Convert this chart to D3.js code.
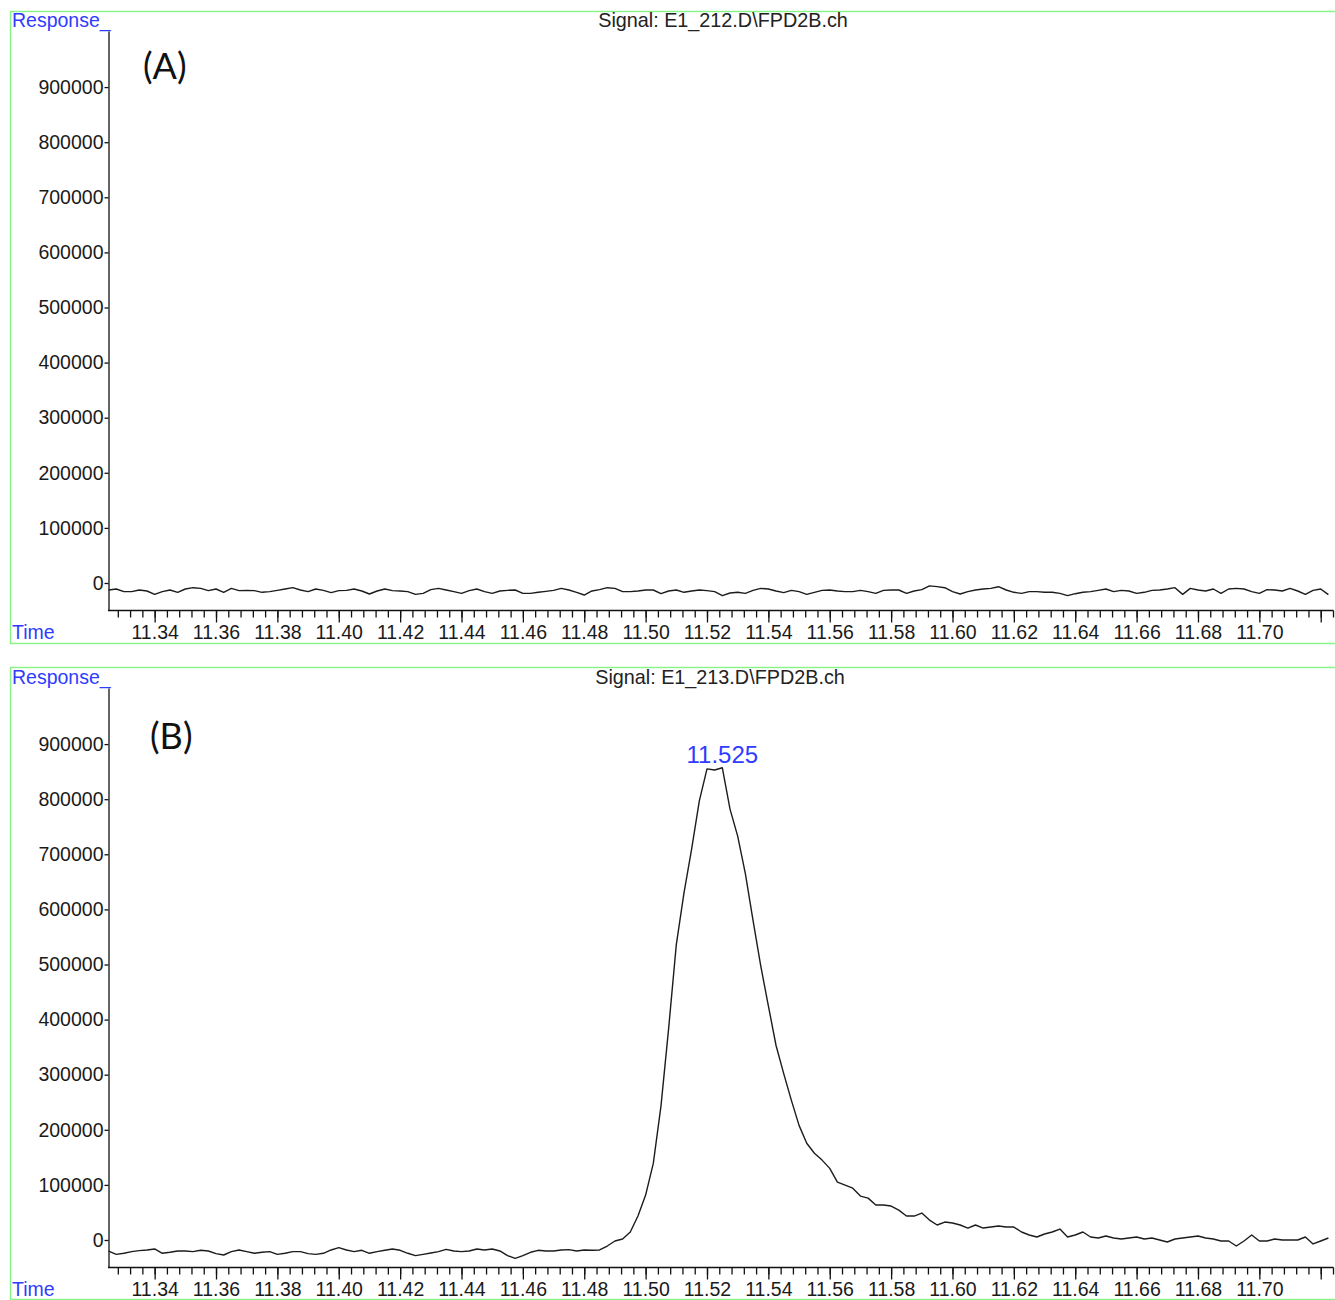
<!DOCTYPE html>
<html>
<head>
<meta charset="utf-8">
<script src="https://cdn.jsdelivr.net/npm/d3@7"></script>
<style>
  body { margin: 0; background: #fff; }
  svg { display: block; }
</style>
</head>
<body>
<svg id="chart" width="1335" height="1300"></svg>
<script>
// Sampling grid of the detector trace (minutes)
const timeStart = 11.325;
const timeStep = 0.0025;

// Run E1_212 — blank, baseline only
const responseA = [
  -12700, -10900, -15700, -15700, -12700, -14500, -20600, -15700, -12700, -16900,
  -10900, -8500, -9700, -13900, -10900, -16900, -9700, -13900, -13300, -13900,
  -16900, -15700, -13300, -10900, -8500, -12700, -15700, -10900, -13300, -17500,
  -13900, -13300, -10900, -14500, -20000, -14500, -10900, -13900, -14500, -15700,
  -20600, -18800, -12100, -9700, -12700, -15700, -18800, -13900, -10900, -15700,
  -18800, -14500, -13300, -12700, -18800, -18800, -16900, -15100, -13300, -9700,
  -12700, -16900, -21800, -14500, -12100, -8500, -9700, -15700, -15700, -14500,
  -12700, -12700, -19400, -14500, -12700, -16900, -14500, -12700, -13900, -15700,
  -23000, -18200, -16900, -18800, -13300, -9700, -10900, -14500, -17500, -13300,
  -15700, -20600, -16900, -13300, -12700, -14500, -15700, -15700, -13300, -15700,
  -18800, -13300, -12700, -12700, -18800, -14500, -12100, -5300, -6500, -8500,
  -15700, -20000, -15700, -12700, -10900, -9700, -6700, -12700, -16900, -18800,
  -15700, -15700, -16900, -16900, -18800, -23000, -19400, -16900, -15700, -13300,
  -10900, -15700, -13300, -14500, -18800, -16900, -13300, -12700, -10900, -8500,
  -20600, -9700, -12700, -14500, -10900, -18800, -10900, -9700, -10900, -15700,
  -18800, -12100, -12700, -14500, -9700, -14500, -20600, -13300, -10900, -21000
];

// Run E1_213 — sample, peak at 11.525 min
const responseB = [
  -20000, -26000, -24100, -21100, -19300, -18100, -16300, -24100, -22300, -19900,
  -19900, -21100, -18700, -19900, -24700, -27200, -21100, -18100, -21100, -24100,
  -22300, -21100, -26000, -24100, -21100, -21100, -24700, -26000, -24100, -18100,
  -13900, -18100, -21100, -18700, -24100, -21100, -18700, -16300, -18700, -24100,
  -28400, -26000, -23500, -21100, -16900, -19900, -21100, -19900, -16300, -18100,
  -16300, -19900, -28400, -33200, -28400, -22300, -18700, -19900, -19900, -18100,
  -17500, -19900, -18100, -18700, -18100, -10900, -1800, 1800, 14500, 43500,
  81500, 139000, 243000, 384000, 536000, 630000, 710000, 797000, 855000, 853000,
  857000, 782000, 733000, 665000, 580000, 498000, 425000, 353000, 302000, 253500,
  208000, 175500, 157500, 145000, 130000, 105000, 99600, 94000, 79700, 76000,
  63400, 63400, 61600, 54300, 43500, 43500, 48900, 36200, 27200, 32600,
  30800, 27200, 21700, 27200, 21700, 23500, 25400, 23500, 23500, 14500,
  9100, 5400, 10900, 14500, 19900, 5400, 9100, 14500, 5400, 3600,
  7200, 3600, 1800, 3600, 5400, 1800, 3600, 0, -3600, 1800,
  3600, 5400, 7200, 3600, 1800, -1800, -1800, -10900, -1800, 9100,
  -1800, -1800, 1800, 0, 0, 0, 5400, -7200, -1800, 3600
];

const signalNames = ["Signal: E1_212.D\\FPD2B.ch", "Signal: E1_213.D\\FPD2B.ch"];
const panelTags = ["(A)", "(B)"];
const peakTimes = [[], [11.525]];

const yTickValues = [0, 100000, 200000, 300000, 400000, 500000, 600000, 700000, 800000, 900000];
const xLabelValues = [11.34, 11.36, 11.38, 11.40, 11.42, 11.44, 11.46, 11.48, 11.50,
                      11.52, 11.54, 11.56, 11.58, 11.60, 11.62, 11.64, 11.66, 11.68, 11.70];
const xMajorValues = xLabelValues.concat([11.72]);
const xMinorValues = d3.range(0, 100).map(k => +(11.328 + 0.004 * k).toFixed(3));

const svg = d3.select("#chart");
const FONT = "'Liberation Sans', Arial, sans-serif";
const BLUE = "#2f3cff";
const GREEN = "#86f586";

const x = d3.scaleLinear().domain([11.3248, 11.7240]).range([108, 1333]);
const panelOffset = 657;

function drawPanel(p, values) {
  const off = p * panelOffset;
  const g = svg.append("g").attr("transform", `translate(0,${off})`);
  const y = d3.scaleLinear().domain([-49000, 1001800]).range([610, 31]);

  // frame (right edge runs just past the page)
  g.append("rect")
    .attr("x", 10.5).attr("y", 11.5 - (p ? 1 : 0))
    .attr("width", 1326).attr("height", 632)
    .attr("fill", "none").attr("stroke", GREEN).attr("stroke-width", 1.4);

  // header texts
  g.append("text").attr("x", 12).attr("y", 27)
    .attr("font-family", FONT).attr("font-size", 19.5).attr("fill", BLUE)
    .text("Response_");
  g.append("text").attr("x", 12).attr("y", 639)
    .attr("font-family", FONT).attr("font-size", 19.5).attr("fill", BLUE)
    .text("Time");
  g.append("text").attr("x", p ? 720 : 723).attr("y", 27)
    .attr("text-anchor", "middle")
    .attr("font-family", FONT).attr("font-size", 19.8).attr("fill", "#222")
    .text(signalNames[p]);
  g.append("text").attr("x", p ? 150 : 143).attr("y", p ? 749 - off : 79)
    .attr("font-family", "Lato, 'Open Sans', sans-serif").attr("font-size", 36).attr("fill", "#111")
    .text(panelTags[p]);

  // y axis
  const yAxis = g.append("g").attr("transform", "translate(108.5,0)")
    .call(d3.axisLeft(y).tickValues(yTickValues).tickSize(4).tickSizeOuter(0).tickPadding(1)
      .tickFormat(d3.format("d")));
  yAxis.selectAll("text").attr("font-family", FONT).attr("font-size", 19.5).attr("fill", "#1a1a1a");
  yAxis.selectAll("line, path").attr("stroke", "#111").attr("stroke-width", 1.3);

  // x axis: minor ticks, then major ticks with labels
  const xMinor = g.append("g").attr("transform", "translate(0,610.5)")
    .call(d3.axisBottom(x).tickValues(xMinorValues).tickSize(7).tickSizeOuter(0).tickFormat(""));
  xMinor.selectAll("line, path").attr("stroke", "#111").attr("stroke-width", 1.3);
  xMinor.select("path").attr("d", `M108,0H1333.5`);

  const xMajor = g.append("g").attr("transform", "translate(0,610.5)")
    .call(d3.axisBottom(x).tickValues(xMajorValues).tickSize(12).tickSizeOuter(0).tickPadding(3)
      .tickFormat(d => xLabelValues.includes(d) ? d3.format(".2f")(d) : ""));
  xMajor.select("path").remove();
  xMajor.selectAll("line").attr("stroke", "#111").attr("stroke-width", 1.3);
  xMajor.selectAll("text").attr("font-family", FONT).attr("font-size", 19.5).attr("fill", "#1a1a1a");

  // trace
  const line = d3.line()
    .x((d, i) => x(timeStart + i * timeStep))
    .y(d => y(d));
  g.append("path").datum(values)
    .attr("d", line)
    .attr("fill", "none").attr("stroke", "#1c1c1c").attr("stroke-width", 1.4)
    .attr("stroke-linejoin", "round");

  // retention time labels
  peakTimes[p].forEach(t => {
    const idx = Math.round((t - timeStart) / timeStep);
    g.append("text")
      .attr("x", x(t)).attr("y", y(values[idx]) - 5)
      .attr("text-anchor", "middle")
      .attr("font-family", FONT).attr("font-size", 24).attr("fill", BLUE)
      .text(d3.format(".3f")(t));
  });
}

drawPanel(0, responseA);
drawPanel(1, responseB);
</script>
</body>
</html>
